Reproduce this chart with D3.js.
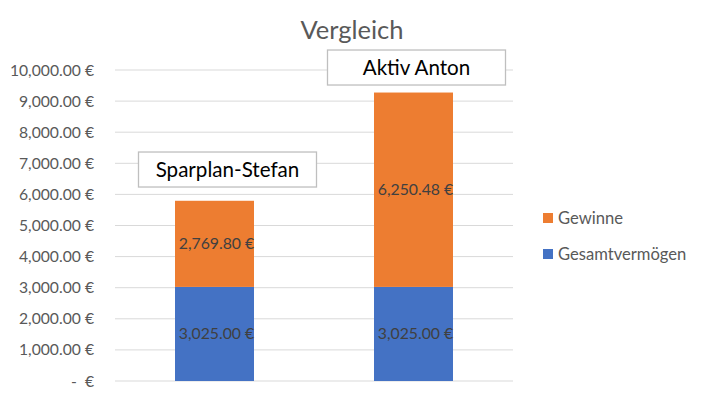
<!DOCTYPE html>
<html><head><meta charset="utf-8">
<script src="https://cdn.jsdelivr.net/npm/d3@7"></script>
<style>body{margin:0;background:#fff}svg{display:block}</style>
</head><body>
<svg id="c" width="703" height="396"></svg>
<script>
const categories = ["Sparplan-Stefan", "Aktiv Anton"];
const gesamtvermoegen = [3025.00, 3025.00];
const gewinne = [2769.80, 6250.48];
const tickValues = [0,1000,2000,3000,4000,5000,6000,7000,8000,9000,10000];
const seriesNames = ["Gesamtvermögen", "Gewinne"];
const colors = {"Gesamtvermögen": "#4472C4", "Gewinne": "#ED7D31"};
const title = "Vergleich";
// value at which each category's label box is centred
const labelBoxValues = [6800, 10080];

const font = "Lato, 'Open Sans', sans-serif";
const svg = d3.select("#c");
const x = d3.scaleBand().domain(categories).range([115, 513]).paddingInner(0.6).paddingOuter(0.3);
const y = d3.scaleLinear().domain([0, 10000]).range([381, 70]);

const fmt = v => v === 0 ? "-  €" : d3.format(",.2f")(v) + " €";

// gridlines
svg.append("g").selectAll("line").data(tickValues).join("line")
  .attr("x1", 115).attr("x2", 513)
  .attr("y1", d => y(d)).attr("y2", d => y(d))
  .attr("stroke", "#d9d9d9").attr("stroke-width", 1);

// y axis labels
const yAxis = d3.axisLeft(y).tickValues(tickValues).tickFormat(fmt).tickSize(0).tickPadding(0);
const ga = svg.append("g").attr("transform", "translate(94,0)").call(yAxis);
ga.select(".domain").remove();
ga.selectAll("text").attr("font-family", font).attr("font-size", 15.7).attr("fill", "#595959")
  .style("white-space", "pre").attr("xml:space", "preserve");

// stacked bars
const rows = categories.map((c, i) => ({cat: c, "Gesamtvermögen": gesamtvermoegen[i], "Gewinne": gewinne[i]}));
const stack = d3.stack().keys(seriesNames)(rows);
const bw = 79;
stack.forEach(layer => {
  const g = svg.append("g");
  g.selectAll("rect").data(layer).join("rect")
    .attr("x", d => x(d.data.cat) + x.bandwidth()/2 - bw/2)
    .attr("width", bw)
    .attr("y", d => y(d[1]))
    .attr("height", d => y(d[0]) - y(d[1]))
    .attr("fill", colors[layer.key]);
  g.selectAll("text").data(layer).join("text")
    .attr("x", d => x(d.data.cat) + x.bandwidth()/2 + 2)
    .attr("y", d => (y(d[0]) + y(d[1]))/2)
    .attr("dy", "0.35em")
    .attr("text-anchor", "middle")
    .attr("font-family", font).attr("font-size", 15.8).attr("fill", "#404040")
    .text(d => d3.format(",.2f")(d[1] - d[0]) + " €");
});

// annotation boxes (category names)
const boxW = 178, boxH = 35;
const boxShift = [13, 3];
categories.forEach((c, i) => {
  const cx = x(c) + x.bandwidth()/2 + boxShift[i];
  const cy = y(labelBoxValues[i]);
  svg.append("rect").attr("x", cx - boxW/2).attr("y", cy - boxH/2).attr("width", boxW).attr("height", boxH)
    .attr("fill", "#fff").attr("stroke", "#bfbfbf").attr("stroke-width", 1.3);
  svg.append("text").attr("x", cx).attr("y", cy).attr("dy", "0.35em")
    .attr("text-anchor", "middle").attr("font-family", font).attr("font-size", 20.6).attr("fill", "#000")
    .text(c);
});

// title
svg.append("text").attr("x", 352).attr("y", 30).attr("dy", "0.35em").attr("text-anchor", "middle")
  .attr("font-family", font).attr("font-size", 25.5).attr("fill", "#595959").text(title);

// legend
const legend = [{name: "Gewinne", y: 218}, {name: "Gesamtvermögen", y: 254}];
const lg = svg.append("g");
lg.selectAll("rect").data(legend).join("rect")
  .attr("x", 543).attr("y", d => d.y - 5).attr("width", 10).attr("height", 10)
  .attr("fill", d => colors[d.name]);
lg.selectAll("text").data(legend).join("text")
  .attr("x", 558).attr("y", d => d.y).attr("dy", "0.35em")
  .attr("font-family", font).attr("font-size", 16.6).attr("fill", "#595959").text(d => d.name);
</script>
</body></html>
